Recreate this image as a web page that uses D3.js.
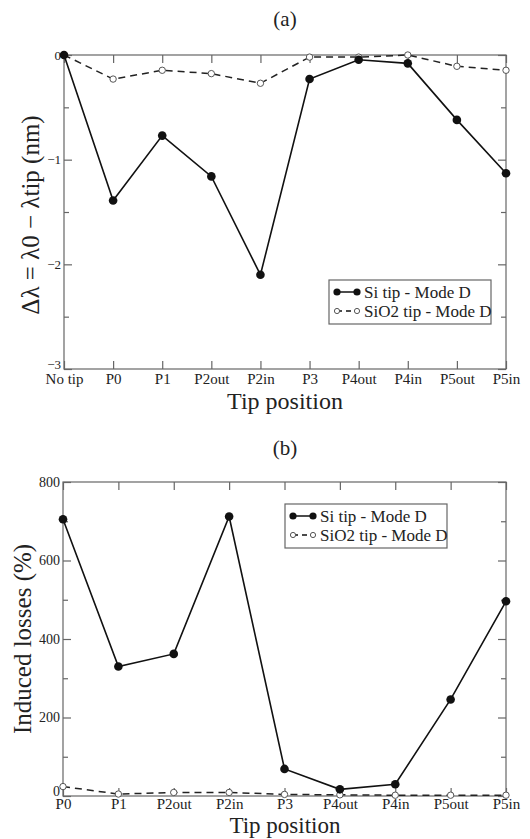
<!DOCTYPE html>
<html>
<head>
<meta charset="utf-8">
<script src="https://cdn.jsdelivr.net/npm/d3@7"></script>
<style>
  body { margin: 0; background: #fff; }
  svg text { font-family: "Liberation Serif", "DejaVu Serif", serif !important; }
</style>
</head>
<body>
<svg id="chart" width="530" height="839"></svg>
<script>
// panel (a): wavelength shift
const positionsA = ["No tip", "P0", "P1", "P2out", "P2in", "P3", "P4out", "P4in", "P5out", "P5in"];
const siShift = [0, -1.39, -0.77, -1.16, -2.1, -0.23, -0.045, -0.08, -0.62, -1.13];
const sio2Shift = [0, -0.23, -0.146, -0.178, -0.27, -0.02, -0.02, 0, -0.108, -0.146];
const yTicksA = [0, -1, -2, -3];

// panel (b): induced losses
const positionsB = ["P0", "P1", "P2out", "P2in", "P3", "P4out", "P4in", "P5out", "P5in"];
const siLoss = [705, 330, 362, 712, 69, 17, 30, 246, 496];
const sio2Loss = [24, 5, 9, 9, 4, 3, 2, 2, 2];
const yTicksB = [0, 200, 400, 600, 800];

const seriesNames = ["Si tip - Mode D", "SiO2 tip - Mode D"];

const svg = d3.select("#chart");

function drawPanel(cfg) {
  const g = svg.append("g");
  const x = d3.scalePoint().domain(cfg.cats).range([cfg.left, cfg.right]).padding(0);
  const y = d3.scaleLinear().domain(cfg.yDomain).range([cfg.bottom, cfg.top]);

  // frame
  g.append("rect")
    .attr("x", cfg.left).attr("y", cfg.top)
    .attr("width", cfg.right - cfg.left).attr("height", cfg.bottom - cfg.top)
    .attr("fill", "none").attr("stroke", "#666").attr("stroke-width", 1.2);

  // x ticks (bottom + top, inward)
  const xAxisB = d3.axisBottom(x).tickSize(-8).tickSizeOuter(0).tickPadding(cfg.xPad);
  const xg = g.append("g").attr("transform", `translate(0,${cfg.bottom})`).call(xAxisB);
  const xAxisT = d3.axisTop(x).tickSize(-8).tickSizeOuter(0).tickFormat("");
  const xgt = g.append("g").attr("transform", `translate(0,${cfg.top})`).call(xAxisT);

  // y ticks (left + right, inward), major and minor
  const yAxisL = d3.axisLeft(y).tickValues(cfg.yTicks).tickSize(-8).tickSizeOuter(0)
    .tickPadding(3).tickFormat(d3.format("d"));
  const yg = g.append("g").attr("transform", `translate(${cfg.left},0)`).call(yAxisL);
  const yAxisR = d3.axisRight(y).tickValues(cfg.yTicks).tickSize(-8).tickSizeOuter(0).tickFormat("");
  const ygr = g.append("g").attr("transform", `translate(${cfg.right},0)`).call(yAxisR);
  const yMinorL = d3.axisLeft(y).tickValues(cfg.yMinor).tickSize(-5).tickSizeOuter(0).tickFormat("");
  const ygm = g.append("g").attr("transform", `translate(${cfg.left},0)`).call(yMinorL);
  const yMinorR = d3.axisRight(y).tickValues(cfg.yMinor).tickSize(-5).tickSizeOuter(0).tickFormat("");
  const ygmr = g.append("g").attr("transform", `translate(${cfg.right},0)`).call(yMinorR);

  [xg, xgt, yg, ygr, ygm, ygmr].forEach(a => {
    a.attr("font-family", null);
    a.select(".domain").remove();
    a.selectAll(".tick line").attr("stroke", "#666").attr("stroke-width", 1.2);
    a.selectAll("text").attr("font-size", 15).attr("fill", "#222");
  });
  yg.selectAll("text").attr("font-size", cfg.yTickSize);
  // bottom-left corner label sits a bit higher, as in the original
  yg.selectAll(".tick").filter(d => d === cfg.yDomain[0]).select("text").attr("dy", "-0.05em");

  // lines
  const line = d3.line().x((d, i) => x(cfg.cats[i])).y(d => y(d));
  g.append("path").datum(cfg.s2)
    .attr("d", line).attr("fill", "none").attr("stroke", "#222")
    .attr("stroke-width", 1.5).attr("stroke-dasharray", "7,5");
  g.append("path").datum(cfg.s1)
    .attr("d", line).attr("fill", "none").attr("stroke", "#111").attr("stroke-width", 1.6);

  g.selectAll(".m2").data(cfg.s2).join("circle")
    .attr("cx", (d, i) => x(cfg.cats[i])).attr("cy", d => y(d)).attr("r", 3.2)
    .attr("fill", "#fff").attr("stroke", "#555").attr("stroke-width", 1);
  g.selectAll(".m1").data(cfg.s1).join("circle")
    .attr("cx", (d, i) => x(cfg.cats[i])).attr("cy", d => y(d)).attr("r", 4.3)
    .attr("fill", "#111");

  // panel title
  g.append("text").attr("x", 285).attr("y", cfg.titleY).attr("text-anchor", "middle")
    .attr("font-size", 21).attr("fill", "#222").text(cfg.title);

  // axis titles
  g.append("text").attr("x", 285).attr("y", cfg.xLabelY).attr("text-anchor", "middle")
    .attr("font-size", cfg.xLabelSize).attr("fill", "#222").text("Tip position");
  g.append("text")
    .attr("transform", `translate(${cfg.yLabelX},${cfg.yLabelY}) rotate(-90)`)
    .attr("text-anchor", "middle").attr("font-size", 25).attr("fill", "#222").text(cfg.yLabel);

  // legend
  const lg = g.append("g").attr("transform", `translate(${cfg.legX},${cfg.legY})`);
  lg.append("rect").attr("width", 162).attr("height", 44)
    .attr("fill", "#fff").attr("stroke", "#666").attr("stroke-width", 1.2);
  const rows = [
    {name: seriesNames[0], dash: null, r: 3.6, fill: "#111", stroke: "none"},
    {name: seriesNames[1], dash: "5,4", r: 2.6, fill: "#fff", stroke: "#555"}
  ];
  rows.forEach((r, i) => {
    const yy = 12 + i * 19;
    lg.append("line").attr("x1", 8).attr("x2", 28).attr("y1", yy).attr("y2", yy)
      .attr("stroke", "#111").attr("stroke-width", 1.5).attr("stroke-dasharray", r.dash);
    [8, 28].forEach(cx => lg.append("circle").attr("cx", cx).attr("cy", yy).attr("r", r.r)
      .attr("fill", r.fill).attr("stroke", r.stroke));
    lg.append("text").attr("x", 35).attr("y", yy + 5.5).attr("font-size", 17)
      .attr("fill", "#222").text(r.name);
  });
}

drawPanel({
  cats: positionsA, s1: siShift, s2: sio2Shift,
  left: 64, right: 506, top: 55, bottom: 369, xPad: 4,
  yDomain: [-3, 0], yTicks: yTicksA, yMinor: [-0.5, -1.5, -2.5], yTickSize: 13,
  title: "(a)", titleY: 26, xLabelY: 409, xLabelSize: 24, yLabelX: 39, yLabelY: 215,
  yLabel: "Δλ = λ0 − λtip (nm)", legX: 329, legY: 280
});

drawPanel({
  cats: positionsB, s1: siLoss, s2: sio2Loss,
  left: 63, right: 506, top: 482, bottom: 796, xPad: 2,
  yDomain: [0, 800], yTicks: yTicksB, yMinor: [100, 300, 500, 700], yTickSize: 14,
  title: "(b)", titleY: 455, xLabelY: 833, xLabelSize: 23, yLabelX: 31, yLabelY: 639,
  yLabel: "Induced losses (%)", legX: 285, legY: 504
});
</script>
</body>
</html>
